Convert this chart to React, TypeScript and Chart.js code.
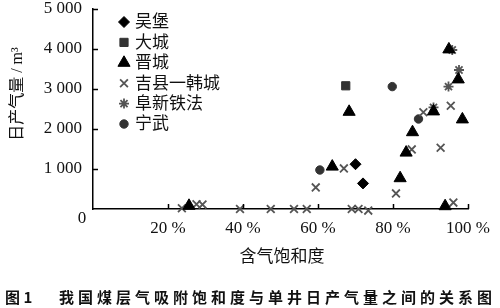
import React, { useEffect, useRef } from "react";
import { Chart, registerables } from "chart.js";
import { drawPoint } from "chart.js/helpers";

Chart.register(...registerables);

const seriesNames = ["吴堡", "大城", "晋城", "吉县一韩城", "阜新铁法", "宁武"];

const wubao = [
  { x: 70, y: 1120 },
  { x: 72, y: 640 },
];
const dacheng = [{ x: 67.4, y: 3080 }];
const jincheng = [
  { x: 25.6, y: 80 },
  { x: 63.8, y: 1060 },
  { x: 68.3, y: 2430 },
  { x: 81.9, y: 770 },
  { x: 83.5, y: 1410 },
  { x: 85.2, y: 1920 },
  { x: 90.8, y: 2440 },
  { x: 93.9, y: 70 },
  { x: 94.9, y: 3990 },
  { x: 97.4, y: 3240 },
  { x: 98.5, y: 2240 },
];
const jixian = [
  { x: 23.7, y: 20 },
  { x: 27.6, y: 120 },
  { x: 29.2, y: 110 },
  { x: 39.2, y: 0 },
  { x: 47.4, y: 0 },
  { x: 53.6, y: 0 },
  { x: 57, y: 0 },
  { x: 59.4, y: 540 },
  { x: 66.9, y: 1015 },
  { x: 69, y: 0 },
  { x: 70.8, y: 0 },
  { x: 73.4, y: -40 },
  { x: 80.8, y: 390 },
  { x: 85, y: 1490 },
  { x: 88.1, y: 2420 },
  { x: 92.7, y: 1530 },
  { x: 95.4, y: 2580 },
  { x: 96.1, y: 160 },
];
const fuxin = [
  { x: 95.8, y: 3975 },
  { x: 97.6, y: 3475 },
  { x: 94.8, y: 3060 },
  { x: 90.8, y: 2540 },
];
const ningwu = [
  { x: 60.5, y: 975 },
  { x: 79.8, y: 3060 },
  { x: 86.8, y: 2250 },
];

const xTicks = [20, 40, 60, 80, 100];
const yTicks = [1000, 2000, 3000, 4000, 5000];

const yTitle = "日产气量 / m³";
const xTitle = "含气饱和度";
const caption = "我国煤层气吸附饱和度与单井日产气量之间的关系图";

const SERIF = "'Liberation Serif', 'Noto Sans CJK SC', serif";

const styles = [
  { pointStyle: "rectRot", radius: 5.5, bg: "#000", border: "#000", bw: 1 },
  { pointStyle: "rect", radius: 5.8, bg: "#333", border: "#333", bw: 1 },
  { pointStyle: "triangle", radius: 7, bg: "#000", border: "#000", bw: 1 },
  { pointStyle: "crossRot", radius: 5.5, bg: "#555", border: "#555", bw: 1.8 },
  { pointStyle: "star", radius: 5, bg: "#555", border: "#555", bw: 1.8 },
  { pointStyle: "circle", radius: 4.2, bg: "#333", border: "#333", bw: 1 },
];

const fmt = (v: number) => {
  const s = String(v);
  return s.length > 3 ? s.slice(0, s.length - 3) + " " + s.slice(-3) : s;
};

const decorPlugin = {
  id: "decor",
  afterDraw(chart: any) {
    const ctx = chart.ctx;
    const xs = chart.scales.x;
    const ys = chart.scales.y;
    ctx.save();
    ctx.strokeStyle = "#000";
    ctx.lineWidth = 1.5;
    ctx.beginPath();
    xTicks.forEach((v) => {
      const px = Math.round(xs.getPixelForValue(v)) + 0.5;
      ctx.moveTo(px, ys.bottom);
      ctx.lineTo(px, ys.bottom - 5);
    });
    yTicks.forEach((v) => {
      const py = Math.round(ys.getPixelForValue(v)) + 0.5;
      ctx.moveTo(xs.left, py);
      ctx.lineTo(xs.left + 5, py);
    });
    ctx.stroke();

    ctx.fillStyle = "#111";
    ctx.font = `17px ${SERIF}`;
    ctx.textAlign = "center";
    ctx.textBaseline = "middle";
    ctx.fillText("0", 82, ys.bottom + 10);

    ctx.font = `17px ${SERIF}`;
    ctx.fillText(xTitle, 282, 258);
    ctx.save();
    ctx.translate(18, 94);
    ctx.rotate(-Math.PI / 2);
    ctx.font = `16px ${SERIF}`;
    ctx.fillText(yTitle, 0, 0);
    ctx.restore();

    ctx.textAlign = "left";
    ctx.font = `17px ${SERIF}`;
    seriesNames.forEach((name, i) => {
      const st = styles[i];
      const y = 22 + i * 20.4;
      ctx.fillStyle = st.bg;
      ctx.strokeStyle = st.border;
      ctx.lineWidth = st.bw;
      drawPoint(ctx, { pointStyle: st.pointStyle, radius: st.radius, rotation: 0, borderWidth: st.bw } as any, 124, y);
      ctx.fillStyle = "#111";
      ctx.fillText(name, 135, y + 1);
    });
    ctx.restore();
  },
};

export default function App() {
  const ref = useRef<HTMLCanvasElement | null>(null);
  useEffect(() => {
    if (!ref.current) return;
    const all = [wubao, dacheng, jincheng, jixian, fuxin, ningwu];
    const chart = new Chart(ref.current, {
      type: "scatter",
      data: {
        datasets: all.map((d, i) => ({
          label: seriesNames[i],
          data: d,
          pointStyle: styles[i].pointStyle as any,
          pointRadius: styles[i].radius,
          pointBackgroundColor: styles[i].bg,
          pointBorderColor: styles[i].border,
          pointBorderWidth: styles[i].bw,
          showLine: false,
          clip: false as any,
        })),
      },
      options: {
        animation: false,
        responsive: false,
        devicePixelRatio: 1,
        layout: { padding: { top: 9, right: 32, left: 0, bottom: 0 } },
        plugins: { legend: { display: false }, tooltip: { enabled: false } },
        scales: {
          x: {
            type: "linear",
            min: 0,
            max: 100,
            afterBuildTicks: (s: any) => {
              s.ticks = [0, ...xTicks].map((v) => ({ value: v }));
            },
            ticks: {
              callback: (v: any) => (v === 0 ? "" : v + " %"),
              font: { family: SERIF, size: 17, lineHeight: 1 },
              color: "#111",
              padding: 11,
              maxRotation: 0,
              autoSkip: false,
            },
            grid: { display: false, drawTicks: false },
            border: { display: true, color: "#000", width: 1.5 },
            afterFit: (s: any) => {
              s.height = 99;
              s.paddingLeft = 0;
              s.paddingRight = 0;
            },
          },
          y: {
            type: "linear",
            min: 0,
            max: 5000,
            afterBuildTicks: (s: any) => {
              s.ticks = [0, ...yTicks].map((v) => ({ value: v }));
            },
            ticks: {
              callback: (v: any) => (v === 0 ? "" : fmt(v)),
              font: { family: SERIF, size: 17, lineHeight: 1 },
              color: "#111",
              padding: 11,
              autoSkip: false,
            },
            grid: { display: false, drawTicks: false },
            border: { display: true, color: "#000", width: 1.5 },
            afterFit: (s: any) => {
              s.width = 93;
              s.paddingTop = 0;
              s.paddingBottom = 0;
            },
          },
        },
      },
      plugins: [decorPlugin],
    });
    return () => chart.destroy();
  }, []);

  return (
    <div style={{ position: "absolute", left: 0, top: 0, width: 500, height: 308, background: "#fff", overflow: "hidden" }}>
      <canvas ref={ref} width={500} height={308} style={{ position: "absolute", left: 0, top: 0, width: 500, height: 308 }} />
      <div
        style={{
          position: "absolute",
          left: 5,
          top: 288,
          fontFamily: "'Noto Sans CJK SC', sans-serif",
          fontWeight: 700,
          fontSize: 15,
          lineHeight: "18px",
          color: "#111",
          whiteSpace: "nowrap",
        }}
      >
        图 1
      </div>
      <div
        style={{
          position: "absolute",
          left: 59,
          top: 288,
          fontFamily: "'Noto Sans CJK SC', sans-serif",
          fontWeight: 700,
          fontSize: 15,
          lineHeight: "18px",
          letterSpacing: "4px",
          color: "#111",
          whiteSpace: "nowrap",
        }}
      >
        {caption}
      </div>
    </div>
  );
}
